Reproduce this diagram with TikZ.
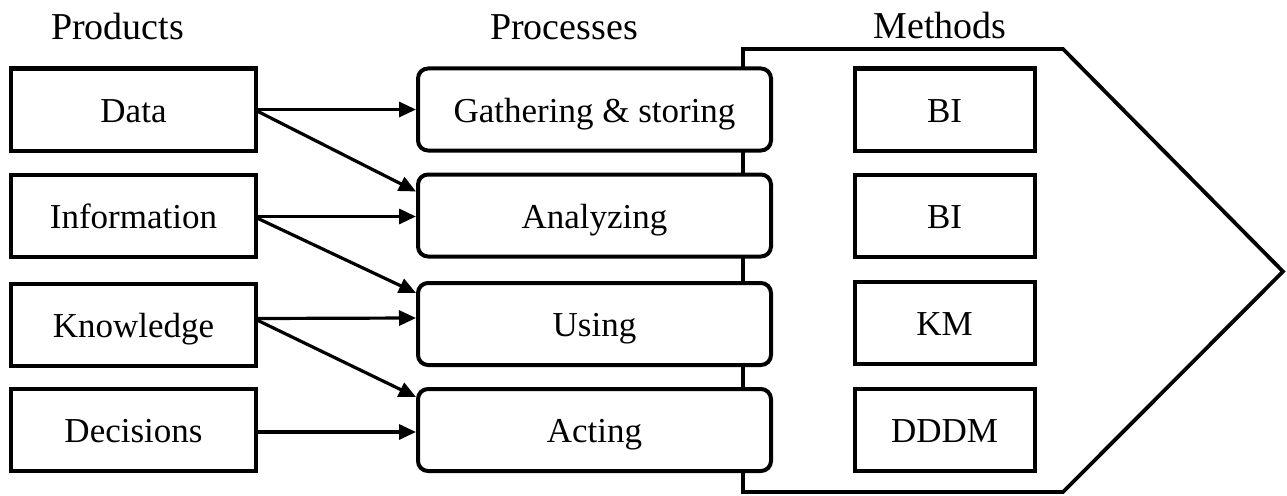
\documentclass[tikz,border=0pt]{standalone}
\usepackage{fontspec}
\setmainfont{Liberation Serif}
\usetikzlibrary{arrows.meta}
\begin{document}
\begin{tikzpicture}[x=1pt,y=-1pt,
  boxtext/.style={inner sep=0pt,text height=25pt,text depth=0pt,font=\fontsize{35pt}{40pt}\selectfont},
  prodbox/.style={boxtext,draw,line width=4pt,minimum width=245pt,minimum height=82pt},
  procbox/.style={boxtext,draw,line width=4pt,rounded corners=10pt,fill=white,minimum width=353pt,minimum height=82pt},
  methbox/.style={boxtext,draw,line width=4pt,minimum width=180pt,minimum height=82pt},
  title/.style={anchor=base,inner sep=0pt,font=\fontsize{38pt}{44pt}\selectfont},
  conn/.style={line width=3.2pt,-{Triangle[length=17pt,width=15pt]}}]
\useasboundingbox (0,0) rectangle (1287,495);
% titles
\node[title] (tprod) at (117.5,40) {Products};
\node[title] (tproc) at (564,40) {Processes};
\node[title] (tmeth) at (940,38) {Methods};
% pentagon arrow
\coordinate (p1) at (743,49);
\coordinate (p2) at (1063,49);
\coordinate (p3) at (1283,271.5);
\coordinate (p4) at (1063,492);
\coordinate (p5) at (743,492);
\draw[line width=3.8pt,line join=miter] (p1) -- (p2) -- (p3) -- (p4) -- (p5) -- cycle;
% products
\node[prodbox] (data) at (133.5,109.5) {Data};
\node[prodbox] (info) at (133.5,215.5) {Information};
\node[prodbox] (know) at (133.5,324.5) {Knowledge};
\node[prodbox] (deci) at (133.5,430) {Decisions};
% processes
\node[procbox] (gath) at (594.5,109.5) {Gathering \& storing};
\node[procbox] (anal) at (594.5,215.5) {Analyzing};
\node[procbox] (usin) at (594.5,324) {Using};
\node[procbox] (acti) at (594.5,430) {Acting};
% methods
\node[methbox] (m1) at (944.5,109.5) {BI};
\node[methbox] (m2) at (944.5,215.5) {BI};
\node[methbox] (m3) at (944.5,322.5) {KM};
\node[methbox] (m4) at (944.5,430) {DDDM};
% connectors
\draw[conn] (data.east) -- (gath.west);
\draw[conn] ([yshift=-2pt]data.east) -- ([yshift=24pt]anal.west);
\draw[conn] ([yshift=-1pt]info.east) -- ([yshift=-1pt]anal.west);
\draw[conn] ([yshift=-3pt]info.east) -- ([yshift=31pt]usin.west);
\draw[conn] ([yshift=6pt]know.east) -- ([yshift=6pt]usin.west);
\draw[conn] ([yshift=4pt]know.east) -- ([yshift=33pt]acti.west);
\draw[conn] ([yshift=-2pt]deci.east) -- ([yshift=-2pt]acti.west);
\end{tikzpicture}
\end{document}
